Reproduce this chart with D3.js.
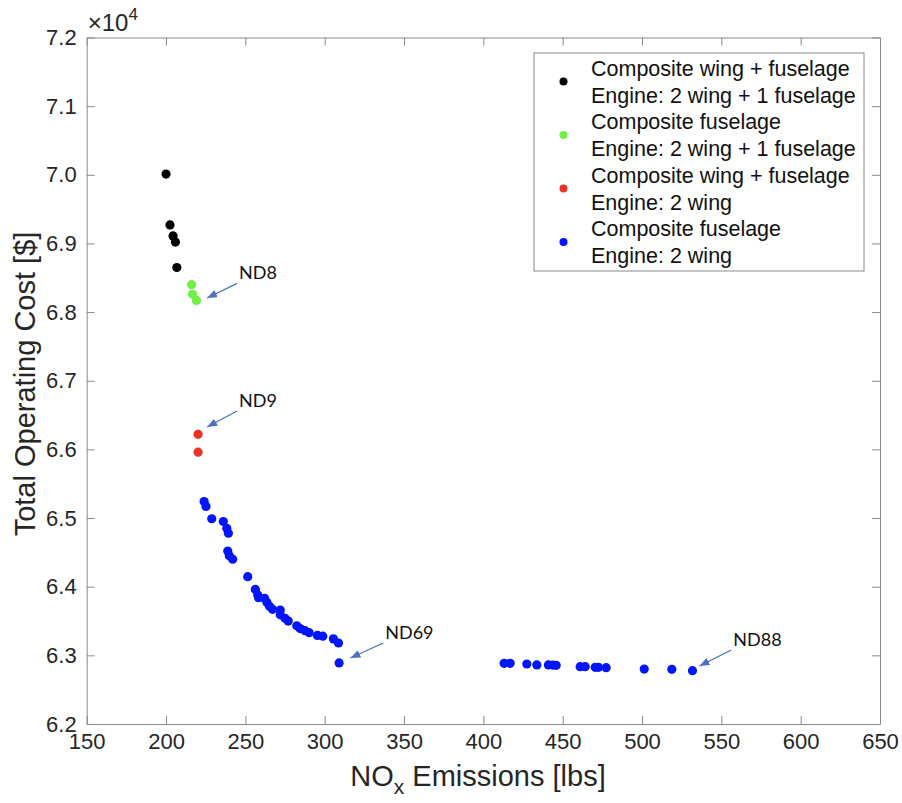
<!DOCTYPE html>
<html>
<head>
<meta charset="utf-8">
<script src="https://cdn.jsdelivr.net/npm/d3@7"></script>
<style>
  body { margin: 0; background: #fff; }
  text { font-family: "Liberation Sans", Arial, Helvetica, sans-serif; }
  .axis path, .axis line { stroke: #8a8a8a; }
  .axis text { fill: #262626; }
  .note { font-family: Lato, "Open Sans", sans-serif; font-size: 18px; fill: #111; }
</style>
</head>
<body>
<div id="chart"></div>
<script>
// Data
var blackX = [200.0, 202.5, 204.4, 205.9, 206.8];
var blackY = [70010, 69270, 69110, 69020, 68650];

var greenX = [216.1, 216.7, 219.2];
var greenY = [68400, 68260, 68170];

var redX = [220.2, 220.2];
var redY = [66220, 65960];

var blueX = [224.0, 225.2, 228.8, 236.1, 238.3, 239.3, 238.9, 239.9, 242.0, 251.5,
             256.3, 257.8, 258.3, 262.1, 263.6, 265.3, 267.1, 272.0, 272.0, 275.0,
             277.0, 282.4, 284.5, 287.6, 290.2, 295.4, 298.8, 305.5, 308.7, 309.1,
             413.1, 416.9, 427.4, 433.7, 441.0, 443.8, 445.9, 461.0, 464.2, 470.5,
             472.6, 477.4, 501.4, 518.8, 531.8];
var blueY = [65240, 65170, 64990, 64950, 64850, 64780, 64520, 64450, 64400, 64146,
             63960, 63880, 63840, 63830, 63770, 63710, 63670, 63660, 63590, 63540,
             63500, 63430, 63390, 63360, 63330, 63290, 63280, 63240, 63180, 62890,
             62884, 62884, 62874, 62860, 62860, 62858, 62855, 62835, 62835, 62826,
             62826, 62820, 62800, 62797, 62777];

var seriesNames = [
  ["Composite wing + fuselage", "Engine: 2 wing + 1 fuselage"],
  ["Composite fuselage", "Engine: 2 wing + 1 fuselage"],
  ["Composite wing + fuselage", "Engine: 2 wing"],
  ["Composite fuselage", "Engine: 2 wing"]
];
var seriesColors = ["#000000", "#6ef046", "#ea3323", "#0014ff"];

var xTicks = [150, 200, 250, 300, 350, 400, 450, 500, 550, 600, 650];
var yTicks = [62000, 63000, 64000, 65000, 66000, 67000, 68000, 69000, 70000, 71000, 72000];

// Annotations: label, arrow tail (x, y), arrow head (x, y) in data units
var noteLabels = ["ND8", "ND9", "ND69", "ND88"];
var noteTail = [[244.8, 68418], [244.8, 66560], [336.9, 63180], [556.3, 63078]];
var noteHead = [[225.9, 68205], [225.9, 66326], [316.2, 62961], [536.2, 62845]];

// Chart dimensions
var svgWidth = 902;
var svgHeight = 803;
var margin = { top: 37.5, right: 22, bottom: 79, left: 86.7 };
var width = svgWidth - margin.left - margin.right;
var height = svgHeight - margin.top - margin.bottom;

var svg = d3.select("#chart")
  .append("svg")
  .attr("width", svgWidth)
  .attr("height", svgHeight);

var chartGroup = svg.append("g")
  .attr("transform", `translate(${margin.left}, ${margin.top})`);

// Scales
var xScale = d3.scaleLinear().domain([150, 650]).range([0, width]);
var yScale = d3.scaleLinear().domain([62000, 72000]).range([height, 0]);

// Axes (ticks pointing inward, box on all sides)
chartGroup.append("g")
  .attr("class", "axis")
  .attr("transform", `translate(0, ${height})`)
  .call(d3.axisBottom(xScale).tickValues(xTicks).tickSizeInner(-8).tickSizeOuter(0).tickPadding(9));

chartGroup.append("g")
  .attr("class", "axis")
  .call(d3.axisLeft(yScale).tickValues(yTicks).tickSizeInner(-8).tickSizeOuter(0).tickPadding(10)
    .tickFormat(d => d3.format(".1f")(d / 10000)));

chartGroup.append("g")
  .attr("class", "axis")
  .call(d3.axisTop(xScale).tickValues(xTicks).tickSizeInner(-8).tickSizeOuter(0).tickFormat(""));

chartGroup.append("g")
  .attr("class", "axis")
  .attr("transform", `translate(${width}, 0)`)
  .call(d3.axisRight(yScale).tickValues(yTicks).tickSizeInner(-8).tickSizeOuter(0).tickFormat(""));

chartGroup.selectAll(".axis text").attr("font-size", 22);

// Exponent label
var expo = svg.append("text")
  .attr("x", margin.left + 1)
  .attr("y", 31)
  .attr("fill", "#262626")
  .attr("font-size", 24);
expo.append("tspan").text("\u00d710");
expo.append("tspan").attr("dy", -11).attr("font-size", 17).text("4");

// Points
var allSeries = [
  d3.zip(blackX, blackY),
  d3.zip(greenX, greenY),
  d3.zip(redX, redY),
  d3.zip(blueX, blueY)
];

allSeries.forEach(function(pts, i) {
  chartGroup.append("g")
    .selectAll("circle")
    .data(pts)
    .enter()
    .append("circle")
    .attr("cx", d => xScale(d[0]))
    .attr("cy", d => yScale(d[1]))
    .attr("r", 4.6)
    .attr("fill", seriesColors[i]);
});

// Annotation arrows
var arrowColor = "#4a72c2";
svg.append("defs").append("marker")
  .attr("id", "head")
  .attr("viewBox", "0 0 10 8")
  .attr("refX", 10)
  .attr("refY", 4)
  .attr("markerWidth", 10)
  .attr("markerHeight", 8)
  .attr("markerUnits", "userSpaceOnUse")
  .attr("orient", "auto")
  .append("path")
  .attr("d", "M0,0 L10,4 L0,8 Z")
  .attr("fill", arrowColor);

noteLabels.forEach(function(label, i) {
  chartGroup.append("line")
    .attr("x1", xScale(noteTail[i][0]))
    .attr("y1", yScale(noteTail[i][1]))
    .attr("x2", xScale(noteHead[i][0]))
    .attr("y2", yScale(noteHead[i][1]))
    .attr("stroke", arrowColor)
    .attr("stroke-width", 1.3)
    .attr("marker-end", "url(#head)");

  chartGroup.append("text")
    .attr("class", "note")
    .attr("x", xScale(noteTail[i][0]) + 2)
    .attr("y", yScale(noteTail[i][1]) - 4)
    .text(label);
});

// Legend
var legend = svg.append("g").attr("transform", "translate(534, 53)");
legend.append("rect")
  .attr("width", 330)
  .attr("height", 218)
  .attr("fill", "#fff")
  .attr("stroke", "#8a8a8a");

seriesNames.forEach(function(lines, i) {
  var cy = 28.5 + i * 53.5;
  legend.append("circle")
    .attr("cx", 29.5)
    .attr("cy", cy)
    .attr("r", 4)
    .attr("fill", seriesColors[i]);
  lines.forEach(function(line, j) {
    legend.append("text")
      .attr("x", 57)
      .attr("y", cy - 13.5 + j * 27)
      .attr("dy", "0.35em")
      .attr("font-size", 21.5)
      .attr("fill", "#111")
      .text(line);
  });
});

// Axis labels
var xLabel = svg.append("text")
  .attr("x", 478)
  .attr("y", 786)
  .attr("text-anchor", "middle")
  .attr("fill", "#262626")
  .attr("font-size", 29);
xLabel.append("tspan").text("NO");
xLabel.append("tspan").attr("dy", 8).attr("font-size", 21).text("x");
xLabel.append("tspan").attr("dy", -8).text(" Emissions [lbs]");

svg.append("text")
  .attr("transform", "translate(35, 384) rotate(-90)")
  .attr("text-anchor", "middle")
  .attr("fill", "#262626")
  .attr("font-size", 29)
  .text("Total Operating Cost [$]");
</script>
</body>
</html>
